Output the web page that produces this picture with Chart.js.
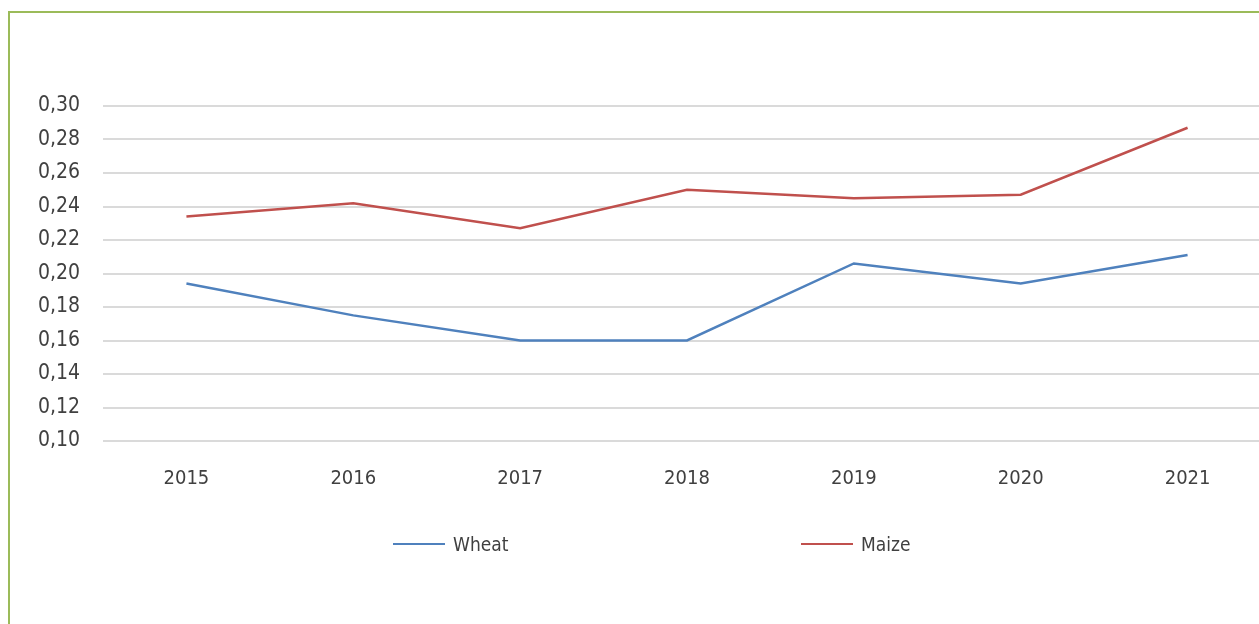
<!DOCTYPE html>
<html>
<head>
<meta charset="utf-8">
<script src="https://cdn.jsdelivr.net/npm/chart.js@4.4.1/dist/chart.umd.min.js"></script>
<style>
  html, body { margin: 0; padding: 0; background: #fff; overflow: hidden; width: 1259px; height: 624px; }
  #frame { position: absolute; left: 8px; top: 11px; width: 1300px; height: 700px; border: 2px solid #9BBB59; }
  #wrap { position: absolute; left: 0; top: 0; width: 1290px; height: 600px; }
  #legend { position: absolute; left: 383px; top: 520px; display: flex; align-items: center; font-family: "Liberation Sans Narrow", "DejaVu Sans Condensed", sans-serif; font-size: 19px; color: #404040; }
  .item { display: flex; align-items: center; }
  .swatch { width: 52px; height: 2px; margin-right: 8px; }
</style>
</head>
<body>
<div id="frame">
  <div id="wrap"><canvas id="c"></canvas></div>
  <div id="legend"></div>
</div>
<script>
const years = ["2015", "2016", "2017", "2018", "2019", "2020", "2021"];
const wheat = [0.194, 0.175, 0.160, 0.160, 0.206, 0.194, 0.211];
const maize = [0.234, 0.242, 0.227, 0.250, 0.245, 0.247, 0.287];
const seriesNames = ["Wheat", "Maize"];
const seriesColors = ["#4F81BD", "#C0504D"];
const yTicks = [0.10, 0.12, 0.14, 0.16, 0.18, 0.20, 0.22, 0.24, 0.26, 0.28, 0.30];

const fontFamily = '"Liberation Sans Narrow", "DejaVu Sans Condensed", sans-serif';

const chart = new Chart(document.getElementById('c'), {
  type: 'line',
  data: {
    labels: years,
    datasets: [
      { label: seriesNames[0], data: wheat, borderColor: seriesColors[0], backgroundColor: seriesColors[0], borderWidth: 2.5, pointRadius: 0, tension: 0 },
      { label: seriesNames[1], data: maize, borderColor: seriesColors[1], backgroundColor: seriesColors[1], borderWidth: 2.5, pointRadius: 0, tension: 0 }
    ]
  },
  options: {
    responsive: true,
    maintainAspectRatio: false,
    animation: false,
    layout: { padding: { top: 93, right: 29, bottom: 72, left: 0 } },
    plugins: { legend: { display: false }, tooltip: { enabled: false } },
    scales: {
      x: {
        offset: true,
        grid: { display: false, drawTicks: false },
        border: { display: false },
        ticks: { color: '#404040', font: { family: fontFamily, size: 20 }, padding: 26 },
        afterFit: s => { s.height = 100; }
      },
      y: {
        min: 0.10, max: 0.30,
        afterBuildTicks: s => { s.ticks = yTicks.map(v => ({ value: v })); },
        grid: { color: '#DADADA', lineWidth: 2, drawTicks: false },
        border: { display: false },
        ticks: {
          color: '#404040', font: { family: fontFamily, size: 21 }, padding: 23,
          callback: v => v.toFixed(2).replace('.', ',')
        },
        afterFit: s => { s.width = 93; }
      }
    }
  }
});

const legend = document.getElementById('legend');
chart.data.datasets.forEach((ds, i) => {
  const item = document.createElement('div');
  item.className = 'item';
  if (i === 0) item.style.width = '408px';
  const sw = document.createElement('span');
  sw.className = 'swatch';
  sw.style.background = ds.borderColor;
  const tx = document.createElement('span');
  tx.textContent = ds.label;
  item.appendChild(sw);
  item.appendChild(tx);
  legend.appendChild(item);
});
</script>
</body>
</html>
